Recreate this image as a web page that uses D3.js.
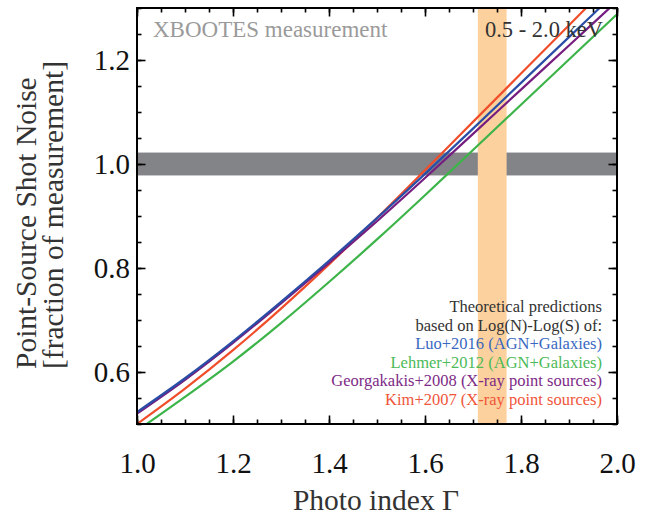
<!DOCTYPE html>
<html>
<head>
<meta charset="utf-8">
<script src="https://cdn.jsdelivr.net/npm/d3@7"></script>
</head>
<body style="margin:0">
<svg id="chart" width="647" height="517" style="display:block"></svg>
<script>
// Photon index grid on which the predictions are tabulated
const gamma = [1.0, 1.1, 1.2, 1.3, 1.4, 1.5, 1.6, 1.7, 1.8, 1.9, 2.0];

// Predicted point-source shot noise (fraction of the measured value)
const luo2016 = [0.523, 0.588, 0.659, 0.735, 0.814, 0.896, 0.981, 1.068, 1.156, 1.244, 1.332];
const lehmer2012 = [0.487, 0.552, 0.620, 0.694, 0.773, 0.855, 0.940, 1.027, 1.114, 1.201, 1.288];
const georgakakis2008 = [0.520, 0.585, 0.656, 0.732, 0.810, 0.890, 0.973, 1.058, 1.143, 1.228, 1.313];
const kim2007 = [0.500, 0.568, 0.642, 0.722, 0.807, 0.896, 0.988, 1.081, 1.174, 1.267, 1.360];

// Measurement band (normalised) and the photon-index range highlighted
const measuredBand = [0.978, 1.022];
const gammaBand = [1.71, 1.77];

// Axis ticks
const xTicks = [1.0, 1.2, 1.4, 1.6, 1.8, 2.0];
const yTicks = [0.6, 0.8, 1.0, 1.2];

const FONT = "Liberation Serif";

const series = [
  { label: "Lehmer+2012 (AGN+Galaxies)", values: lehmer2012, color: "#3db44a" },
  { label: "Kim+2007 (X-ray point sources)", values: kim2007, color: "#f04e2b" },
  { label: "Georgakakis+2008 (X-ray point sources)", values: georgakakis2008, color: "#761d80" },
  { label: "Luo+2016 (AGN+Galaxies)", values: luo2016, color: "#2a4ea6" }
];
const legendOrder = [
  { label: "Luo+2016 (AGN+Galaxies)", color: "#3a68c0" },
  { label: "Lehmer+2012 (AGN+Galaxies)", color: "#4cba58" },
  { label: "Georgakakis+2008 (X-ray point sources)", color: "#7d2a86" },
  { label: "Kim+2007 (X-ray point sources)", color: "#f0553a" }
];

const svg = d3.select("#chart").attr("font-family", FONT);
const L = 137, R = 617, T = 8, B = 424;

const x = d3.scaleLinear().domain([1.0, 2.0]).range([L, R]);
const y = d3.scaleLinear().domain([0.5, 1.3]).range([B, T]);

svg.append("defs").append("clipPath").attr("id", "plot-clip")
  .append("rect").attr("x", L).attr("y", T).attr("width", R - L).attr("height", B - T);

const plot = svg.append("g").attr("clip-path", "url(#plot-clip)");

// Horizontal measurement band
plot.append("rect")
  .attr("x", L).attr("width", R - L)
  .attr("y", y(measuredBand[1]))
  .attr("height", y(measuredBand[0]) - y(measuredBand[1]))
  .attr("fill", "#838487");

// Vertical photon-index band
plot.append("rect")
  .attr("x", x(gammaBand[0])).attr("width", x(gammaBand[1]) - x(gammaBand[0]))
  .attr("y", T).attr("height", B - T)
  .attr("fill", "#fdd19d");

// Prediction curves
const line = d3.line()
  .x((d, i) => x(gamma[i]))
  .y(d => y(d))
  .curve(d3.curveMonotoneX);

series.forEach(s => {
  plot.append("path")
    .datum(s.values)
    .attr("d", line)
    .attr("fill", "none")
    .attr("stroke", s.color)
    .attr("stroke-width", 2.2);
});

// Axes with inward ticks on all four sides
const minorX = d3.range(1.0, 2.0001, 0.05);
const minorY = d3.range(0.5, 1.3001, 0.05);

function tickFmt(d) { return d3.format(".1f")(d); }

svg.append("g").attr("transform", `translate(0,${B})`)
  .call(d3.axisBottom(x).tickValues(minorX).tickSize(-4.5).tickFormat(""));
svg.append("g").attr("transform", `translate(0,${B})`)
  .call(d3.axisBottom(x).tickValues(xTicks).tickSize(-8.5).tickPadding(28.5).tickFormat(tickFmt))
  .attr("class", "major-x");
svg.append("g").attr("transform", `translate(0,${T})`)
  .call(d3.axisTop(x).tickValues(minorX).tickSize(-4.5).tickFormat(""));
svg.append("g").attr("transform", `translate(0,${T})`)
  .call(d3.axisTop(x).tickValues(xTicks).tickSize(-8.5).tickFormat(""));

svg.append("g").attr("transform", `translate(${L},0)`)
  .call(d3.axisLeft(y).tickValues(minorY).tickSize(-4.5).tickFormat(""));
svg.append("g").attr("transform", `translate(${L},0)`)
  .call(d3.axisLeft(y).tickValues(yTicks).tickSize(-8.5).tickPadding(7).tickFormat(tickFmt))
  .attr("class", "major-y");
svg.append("g").attr("transform", `translate(${R},0)`)
  .call(d3.axisRight(y).tickValues(minorY).tickSize(-4.5).tickFormat(""));
svg.append("g").attr("transform", `translate(${R},0)`)
  .call(d3.axisRight(y).tickValues(yTicks).tickSize(-8.5).tickFormat(""));

svg.selectAll(".domain").remove();
svg.selectAll(".tick line").attr("stroke", "#000").attr("stroke-width", 1.6);
svg.selectAll("g").attr("font-family", null);
svg.selectAll(".major-x text, .major-y text")
  .attr("font-size", 29)
  .attr("fill", "#111");

// Frame
svg.append("rect")
  .attr("x", L).attr("y", T).attr("width", R - L).attr("height", B - T)
  .attr("fill", "none").attr("stroke", "#000").attr("stroke-width", 2);

// Axis titles
svg.append("text")
  .attr("x", (L + R) / 2 - 1).attr("y", 510)
  .attr("text-anchor", "middle")
  .attr("font-size", 29.5).attr("fill", "#333")
  .text("Photo index Γ");

const yTitle = svg.append("text")
  .attr("transform", "translate(0,369) rotate(-90)")
  .attr("text-anchor", "start")
  .attr("font-size", 29.5).attr("fill", "#333");
yTitle.append("tspan").attr("x", 0).attr("y", 36).text("Point-Source Shot Noise");
yTitle.append("tspan").attr("x", 0).attr("y", 63).text("[fraction of measurement]");

// Panel annotations
svg.append("text")
  .attr("x", 153).attr("y", 37)
  .attr("font-size", 23).attr("fill", "#9a9a9a")
  .text("XBOOTES measurement");
svg.append("text")
  .attr("x", 603).attr("y", 37)
  .attr("text-anchor", "end")
  .attr("font-size", 22.5).attr("fill", "#333")
  .text("0.5 - 2.0 keV");

// Legend
const lg = svg.append("g").attr("font-size", 16.5).attr("text-anchor", "end");
lg.append("text").attr("x", 602).attr("y", 312).attr("fill", "#333").text("Theoretical predictions");
lg.append("text").attr("x", 602).attr("y", 330.6).attr("fill", "#333").text("based on Log(N)-Log(S) of:");
legendOrder.forEach((d, i) => {
  lg.append("text").attr("x", 602).attr("y", 349.2 + i * 18.6).attr("fill", d.color).text(d.label);
});
</script>
</body>
</html>
